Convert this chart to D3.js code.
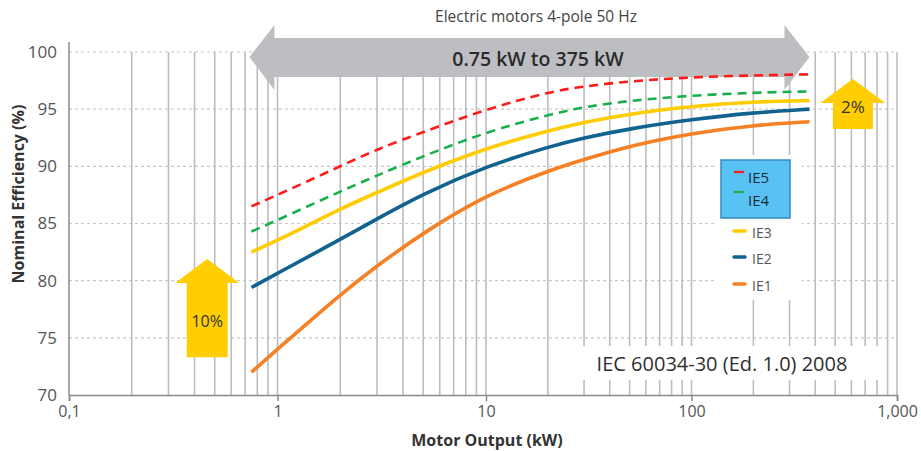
<!DOCTYPE html>
<html>
<head>
<meta charset="utf-8">
<script src="https://cdn.jsdelivr.net/npm/d3@7"></script>
<style>
  html, body { margin: 0; padding: 0; background: #fff; }
  svg { display: block; font-family: "Open Sans", "DejaVu Sans", sans-serif; }
</style>
</head>
<body>
<svg id="chart" width="921" height="451"></svg>
<script>
// ---- data ----
const kw  = [0.75, 1, 2, 3, 5, 10, 20, 30, 50, 100, 200, 375];
const ie5 = [86.5, 87.5, 90.0, 91.5, 93.0, 95.0, 96.5, 97.0, 97.45, 97.8, 97.95, 98.05];
const ie4 = [84.3, 85.3, 87.8, 89.2, 90.9, 93.0, 94.5, 95.2, 95.75, 96.2, 96.45, 96.55];
const ie3 = [82.5, 83.5, 86.3, 87.7, 89.5, 91.6, 93.1, 93.85, 94.6, 95.25, 95.65, 95.75];
const ie2 = [79.4, 80.65, 83.6, 85.4, 87.6, 90.0, 91.7, 92.5, 93.3, 94.1, 94.7, 95.0];
const ie1 = [72.0, 74.0, 78.8, 81.3, 84.2, 87.5, 89.6, 90.6, 91.8, 92.9, 93.6, 93.9];

const seriesNames = ["IE5", "IE4", "IE3", "IE2", "IE1"];
const xTickValues = [0.1, 1, 10, 100, 1000];
const xTickLabels = ["0,1", "1", "10", "100", "1,000"];
const yTickValues = [70, 75, 80, 85, 90, 95, 100];
const rangeLabel = "0.75 kW to 375 kW";
const topTitle = "Electric motors 4-pole 50 Hz";
const standardLabel = "IEC 60034-30 (Ed. 1.0) 2008";

// ---- setup ----
const svg = d3.select("#chart");
const x = d3.scaleLog().domain([0.1, 10, 1000]).range([69, 486, 897]);
const y = d3.scaleLinear().domain([70, 100]).range([395, 52]);

const series = [
  { name: "IE5", values: ie5, color: "#ff1a1a", dash: "9,6", width: 2.6 },
  { name: "IE4", values: ie4, color: "#1aaf4b", dash: "9,6", width: 2.6 },
  { name: "IE3", values: ie3, color: "#ffcc00", dash: null, width: 3.6 },
  { name: "IE2", values: ie2, color: "#10628f", dash: null, width: 3.6 },
  { name: "IE1", values: ie1, color: "#f58025", dash: null, width: 3.6 }
];

svg.append("rect").attr("width", 921).attr("height", 451).attr("fill", "#fff");

// horizontal dotted gridlines
svg.append("g").selectAll("line").data(yTickValues.filter(v => v > 70)).join("line")
  .attr("x1", x(0.1)).attr("x2", x(1000))
  .attr("y1", d => y(d)).attr("y2", d => y(d))
  .attr("stroke", "#c8c8c8").attr("stroke-width", 1.2).attr("stroke-dasharray", "3,3");

// vertical gridlines
const vGrid = [];
[0.1, 1, 10, 100].forEach(dec => { for (let m = 2; m <= 10; m++) vGrid.push(+(dec * m).toPrecision(3)); });
svg.append("g").selectAll("line").data(vGrid).join("line")
  .attr("x1", d => x(d)).attr("x2", d => x(d))
  .attr("y1", y(100)).attr("y2", y(70))
  .attr("stroke", "#bdbdbd").attr("stroke-width", 1.6);

// white backgrounds masking grid (legend area, standard label)
svg.append("rect").attr("x", 716).attr("y", 155).attr("width", 86).attr("height", 145).attr("fill", "#fff");
svg.append("rect").attr("x", 576).attr("y", 346).attr("width", 308).attr("height", 34).attr("fill", "#fff");

// axes lines
svg.append("line").attr("x1", x(0.1)).attr("x2", x(0.1)).attr("y1", 42).attr("y2", y(70))
  .attr("stroke", "#8a8a8a").attr("stroke-width", 1.5);
const xAxis = d3.axisBottom(x).tickValues(xTickValues)
  .tickFormat((d, i) => xTickLabels[i]).tickSize(6).tickPadding(5);
const gx = svg.append("g").attr("transform", `translate(0,${y(70)})`).call(xAxis);
gx.select(".domain").attr("stroke", "#8a8a8a").attr("stroke-width", 1.5);
gx.selectAll(".tick line").attr("stroke", "#8a8a8a").attr("stroke-width", 1.5);
gx.selectAll(".tick text").attr("font-size", 16).attr("fill", "#555").attr("font-family", "Open Sans, sans-serif");

const yAxis = d3.axisLeft(y).tickValues(yTickValues).tickSize(0).tickPadding(12);
const gy = svg.append("g").attr("transform", `translate(${x(0.1)},0)`).call(yAxis);
gy.select(".domain").remove();
gy.selectAll(".tick text").attr("font-size", 17).attr("fill", "#555").attr("font-family", "Open Sans, sans-serif");

// axis titles
svg.append("text").attr("x", 487).attr("y", 446).attr("text-anchor", "middle")
  .attr("font-size", 16).attr("font-weight", 700).attr("fill", "#333").text("Motor Output (kW)");
svg.append("text").attr("transform", "translate(24,194) rotate(-90)").attr("text-anchor", "middle")
  .attr("font-size", 16).attr("font-weight", 700).attr("fill", "#333").text("Nominal Efficiency (%)");

// top title
svg.append("text").attr("x", 536).attr("y", 22).attr("text-anchor", "middle")
  .attr("font-size", 15.5).attr("fill", "#444").text(topTitle);

// big gray double arrow spanning 0.75 -> 375 kW
const xl = x(kw[0]), xr = x(kw[kw.length - 1]);
const yc = 57, bodyT = 38, bodyB = 77, headT = 25, headB = 90, headL = 25;
const arrowPath = d3.path();
arrowPath.moveTo(xl - 2, yc);
arrowPath.lineTo(xl - 2 + headL, headT);
arrowPath.lineTo(xl - 2 + headL, bodyT);
arrowPath.lineTo(xr - headL, bodyT);
arrowPath.lineTo(xr - headL, headT);
arrowPath.lineTo(xr, yc);
arrowPath.lineTo(xr - headL, headB);
arrowPath.lineTo(xr - headL, bodyB);
arrowPath.lineTo(xl - 2 + headL, bodyB);
arrowPath.lineTo(xl - 2 + headL, headB);
arrowPath.closePath();
svg.append("path").attr("d", arrowPath.toString()).attr("fill", "#bdbec1");
svg.append("text").attr("x", 538).attr("y", 66).attr("text-anchor", "middle")
  .attr("font-size", 19.5).attr("font-weight", 600).attr("fill", "#2b2b2b").text(rangeLabel);

// curves
const line = d3.line().x((d, i) => x(kw[i])).y(d => y(d)).curve(d3.curveBasis);
svg.append("g").selectAll("path").data(series).join("path")
  .attr("d", s => line(s.values))
  .attr("fill", "none")
  .attr("stroke", s => s.color)
  .attr("stroke-width", s => s.width)
  .attr("stroke-dasharray", s => s.dash);

// yellow arrows
function upArrow(cx, tipY, headY, baseY, headHalf, shaftHalf) {
  const p = d3.path();
  p.moveTo(cx, tipY);
  p.lineTo(cx + headHalf, headY);
  p.lineTo(cx + shaftHalf, headY);
  p.lineTo(cx + shaftHalf, baseY);
  p.lineTo(cx - shaftHalf, baseY);
  p.lineTo(cx - shaftHalf, headY);
  p.lineTo(cx - headHalf, headY);
  p.closePath();
  return p.toString();
}
const leftArrowX = x(0.46), rightArrowX = x(610);
svg.append("path").attr("d", upArrow(leftArrowX, y(81.9), y(79.8), y(73.3), 32, 20.5)).attr("fill", "#ffcd00");
svg.append("text").attr("x", leftArrowX).attr("y", 327).attr("text-anchor", "middle")
  .attr("font-size", 16).attr("fill", "#333").text("10%");
svg.append("path").attr("d", upArrow(rightArrowX, 79, 103, 129, 32.5, 20)).attr("fill", "#ffcd00");
svg.append("text").attr("x", rightArrowX).attr("y", 113).attr("text-anchor", "middle")
  .attr("font-size", 17).attr("fill", "#333").text("2%");

// legend
svg.append("rect").attr("x", 721).attr("y", 160).attr("width", 69).attr("height", 58)
  .attr("fill", "#58c2f4").attr("stroke", "#3489bd").attr("stroke-width", 1.5);
const legendY = [172, 192, 231, 257, 284];
const legendTextY = [183, 206, 238, 264, 291];
const lg = svg.append("g");
series.forEach((s, i) => {
  const inBox = i < 2;
  lg.append("line").attr("x1", 734).attr("x2", inBox ? 744 : 745)
    .attr("y1", legendY[i]).attr("y2", legendY[i])
    .attr("stroke", s.color).attr("stroke-width", inBox ? 2.2 : 3.5)
    .attr("stroke-linecap", inBox ? "butt" : "round");
  lg.append("text").attr("x", inBox ? 748 : 752).attr("y", legendTextY[i])
    .attr("font-size", inBox ? 15 : 14).attr("fill", inBox ? "#1a2a3a" : "#555")
    .text(seriesNames[i]);
});

// standard label
svg.append("text").attr("x", 722).attr("y", 371).attr("text-anchor", "middle")
  .attr("font-size", 20).attr("fill", "#2f2f2f").text(standardLabel);
</script>
</body>
</html>
